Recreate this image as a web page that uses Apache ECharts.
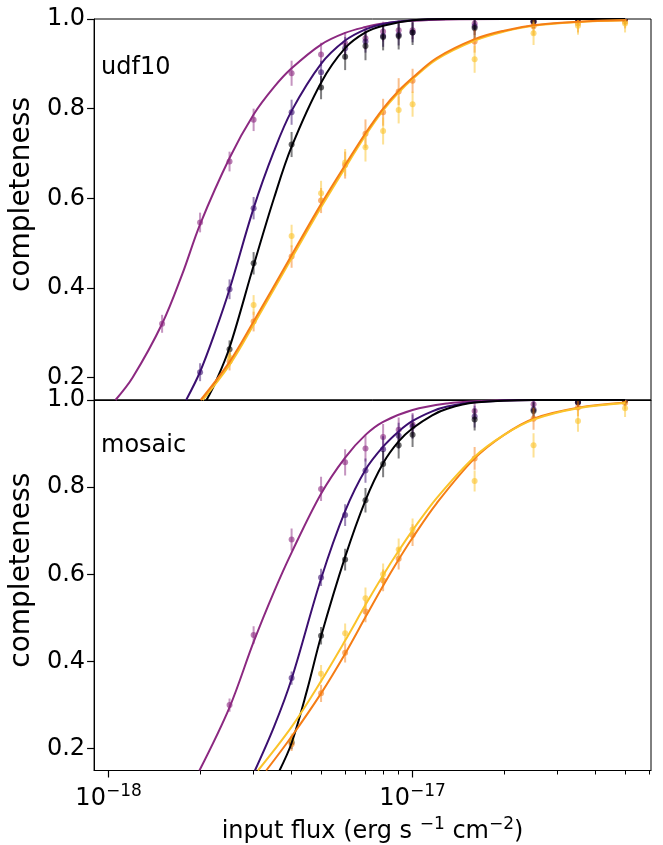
<!DOCTYPE html>
<html>
<head>
<meta charset="utf-8">
<script src="https://cdn.jsdelivr.net/npm/echarts@6/dist/echarts.min.js"></script>
<style>
  html, body { margin: 0; padding: 0; background: #fff; }
  #chart { width: 663px; height: 845px; }
</style>
</head>
<body>
<div id="chart"></div>
<script>
// input flux bins, in units of 1e-18 erg s^-1 cm^-2
const fluxBins = [1.5, 2, 2.5, 3, 4, 5, 6, 7, 8, 9, 10, 16, 25, 35, 50];

// ---- udf10 (top panel) measured completeness + errors
const udfMagenta = [0.32, 0.546, 0.682, 0.775, 0.879, 0.921, 0.946, 0.957, 0.972, 0.975, 0.975, 0.99, 0.993, 1.0, 1.0];
const udfMagentaErr = [0.02, 0.022, 0.022, 0.025, 0.028, 0.026, 0.025, 0.025, 0.022, 0.022, 0.02, 0.018, 0.015, 0.012, 0.012];
const udfIndigo = [null, 0.212, 0.397, 0.578, 0.792, 0.881, 0.935, 0.95, 0.962, 0.965, 0.97, 0.984, 0.995, 1.0, 1.0];
const udfIndigoErr = [null, 0.02, 0.022, 0.025, 0.028, 0.026, 0.025, 0.025, 0.024, 0.024, 0.022, 0.02, 0.015, 0.012, 0.012];
const udfBlack = [null, null, 0.263, 0.455, 0.72, 0.847, 0.916, 0.94, 0.96, 0.962, 0.97, 0.98, 0.995, 1.0, 1.0];
const udfBlackErr = [null, null, 0.02, 0.025, 0.028, 0.026, 0.03, 0.032, 0.03, 0.03, 0.028, 0.025, 0.015, 0.012, 0.012];
const udfOrange = [null, null, 0.236, 0.325, 0.47, 0.595, 0.674, 0.744, 0.792, 0.838, 0.862, 0.95, 0.984, 0.99, 0.994];
const udfOrangeErr = [null, null, 0.02, 0.022, 0.025, 0.028, 0.03, 0.032, 0.03, 0.03, 0.027, 0.025, 0.02, 0.02, 0.015];
const udfYellow = [null, null, 0.245, 0.362, 0.516, 0.611, 0.68, 0.714, 0.75, 0.797, 0.81, 0.91, 0.968, 0.985, 0.99];
const udfYellowErr = [null, null, 0.02, 0.022, 0.025, 0.028, 0.03, 0.032, 0.03, 0.03, 0.028, 0.03, 0.026, 0.02, 0.02];

// ---- mosaic (bottom panel) measured completeness + errors
const mosMagenta = [null, null, 0.30, 0.461, 0.68, 0.796, 0.857, 0.889, 0.915, 0.932, 0.944, 0.975, 0.99, 0.995, 1.0];
const mosMagentaErr = [null, null, 0.015, 0.02, 0.025, 0.028, 0.03, 0.03, 0.03, 0.028, 0.026, 0.02, 0.015, 0.012, 0.012];
const mosIndigo = [null, null, null, null, 0.362, 0.593, 0.736, 0.838, 0.887, 0.918, 0.939, 0.962, 0.978, 0.995, 1.0];
const mosIndigoErr = [null, null, null, null, 0.015, 0.02, 0.025, 0.028, 0.03, 0.03, 0.028, 0.025, 0.02, 0.012, 0.012];
const mosBlack = [null, null, null, null, 0.214, 0.459, 0.634, 0.77, 0.853, 0.896, 0.92, 0.955, 0.975, 0.995, 0.998];
const mosBlackErr = [null, null, null, null, 0.015, 0.02, 0.025, 0.028, 0.03, 0.03, 0.028, 0.025, 0.02, 0.012, 0.012];
const mosOrange = [null, null, null, null, 0.21, 0.327, 0.42, 0.515, 0.586, 0.636, 0.69, 0.866, 0.957, 0.983, 0.993];
const mosOrangeErr = [null, null, null, null, 0.015, 0.02, 0.022, 0.025, 0.025, 0.025, 0.025, 0.026, 0.025, 0.02, 0.015];
const mosYellow = [null, null, null, null, 0.22, 0.372, 0.465, 0.545, 0.60, 0.657, 0.703, 0.814, 0.896, 0.952, 0.981];
const mosYellowErr = [null, null, null, null, 0.015, 0.02, 0.022, 0.025, 0.025, 0.025, 0.025, 0.024, 0.028, 0.025, 0.02];

// ---- fitted curves
const udfMagentaFitX = [1.054, 1.2, 1.5, 1.75, 2, 2.5, 3, 3.5, 4, 5, 6, 7, 8, 10, 13, 20, 50];
const udfMagentaFitY = [0.15, 0.20, 0.32, 0.432, 0.542, 0.69, 0.787, 0.848, 0.89, 0.943, 0.969, 0.982, 0.99, 0.996, 0.999, 1.0, 1.0];
const udfIndigoFitX = [1.8, 2, 2.25, 2.5, 3, 3.5, 4, 5, 6, 7, 8, 10, 13, 20, 50];
const udfIndigoFitY = [0.15, 0.213, 0.305, 0.397, 0.578, 0.705, 0.795, 0.90, 0.952, 0.977, 0.989, 0.997, 1.0, 1.0, 1.0];
const udfBlackFitX = [2.1, 2.25, 2.5, 3, 3.5, 4, 5, 6, 7, 8, 10, 13, 20, 50];
const udfBlackFitY = [0.15, 0.19, 0.267, 0.45, 0.60, 0.715, 0.858, 0.935, 0.97, 0.985, 0.997, 1.0, 1.0, 1.0];
const udfOrangeFitX = [2.01, 2.5, 3, 4, 5, 6, 7, 8, 9, 10, 12, 16, 20, 25, 35, 50];
const udfOrangeFitY = [0.15, 0.235, 0.325, 0.473, 0.587, 0.674, 0.745, 0.80, 0.84, 0.869, 0.913, 0.955, 0.974, 0.986, 0.994, 0.997];
const udfYellowFitX = [2.04, 2.5, 3, 4, 5, 6, 7, 8, 9, 10, 12, 16, 20, 25, 35, 50];
const udfYellowFitY = [0.15, 0.228, 0.318, 0.466, 0.58, 0.668, 0.74, 0.796, 0.836, 0.866, 0.91, 0.952, 0.972, 0.985, 0.993, 0.997];

const mosMagentaFitX = [1.99, 2.5, 3, 3.5, 4, 5, 6, 7, 8, 10, 13, 16, 25, 50];
const mosMagentaFitY = [0.15, 0.295, 0.445, 0.56, 0.65, 0.785, 0.868, 0.92, 0.95, 0.977, 0.992, 0.997, 1.0, 1.0];
const mosIndigoFitX = [3.03, 3.5, 4, 5, 6, 7, 8, 9, 10, 11.6, 13, 16, 25, 50];
const mosIndigoFitY = [0.15, 0.25, 0.36, 0.59, 0.745, 0.84, 0.893, 0.928, 0.952, 0.974, 0.985, 0.995, 1.0, 1.0];
const mosBlackFitX = [3.65, 4, 4.5, 5, 6, 7, 8, 9, 10, 11.6, 13, 16, 25, 50];
const mosBlackFitY = [0.15, 0.213, 0.335, 0.458, 0.64, 0.77, 0.855, 0.905, 0.935, 0.965, 0.98, 0.994, 1.0, 1.0];
const mosOrangeFitX = [3.3, 4, 5, 6, 7, 8, 9, 10, 12, 16, 20, 25, 35, 50];
const mosOrangeFitY = [0.15, 0.228, 0.327, 0.418, 0.502, 0.574, 0.634, 0.684, 0.763, 0.866, 0.92, 0.957, 0.982, 0.994];
const mosYellowFitX = [3.1, 4, 5, 6, 7, 8, 9, 10, 12, 16, 20, 25, 35, 50];
const mosYellowFitY = [0.15, 0.25, 0.355, 0.448, 0.53, 0.598, 0.654, 0.701, 0.775, 0.87, 0.92, 0.955, 0.981, 0.993];

// ticks
const yTicks = [0.2, 0.4, 0.6, 0.8, 1.0];
const xMajorTicks = [1, 10];
const xMinorTicks = [2, 3, 4, 5, 6, 7, 8, 9, 20, 30, 40, 50, 60];

const colors = {
  magenta: '#8c2981',
  indigo: '#3b0f70',
  black: '#000004',
  orange: '#f57d15',
  yellow: '#fbc32a'
};
const FONT = 'DejaVu Sans';
const X_MIN = 0.896, X_MAX = 60.85;

function fitLine(panel, xs, ys, color) {
  return {
    type: 'line',
    xAxisIndex: panel === 0 ? 0 : 1,
    yAxisIndex: panel,
    data: xs.map((x, i) => [x, ys[i]]),
    smooth: 0.35,
    showSymbol: false,
    clip: true,
    silent: true,
    lineStyle: { color: color, width: 2 }
  };
}

function points(panel, vals, errs, color) {
  const data = [];
  fluxBins.forEach((x, i) => {
    if (vals[i] != null) data.push([x, vals[i], errs[i]]);
  });
  return {
    type: 'custom',
    xAxisIndex: panel === 0 ? 0 : 1,
    yAxisIndex: panel,
    data: data,
    clip: true,
    silent: true,
    encode: { x: 0, y: 1 },
    renderItem: function (params, api) {
      const x = api.value(0), y = api.value(1), e = api.value(2);
      const lo = api.coord([x, y - e]);
      const hi = api.coord([x, y + e]);
      const c = api.coord([x, y]);
      return {
        type: 'group',
        children: [
          { type: 'line', shape: { x1: lo[0], y1: lo[1], x2: hi[0], y2: hi[1] },
            style: { stroke: color, lineWidth: 2, opacity: 0.5 } },
          { type: 'circle', shape: { cx: c[0], cy: c[1], r: 3 },
            style: { fill: color, opacity: 0.6 } }
        ]
      };
    }
  };
}

function yAxis(panel) {
  return {
    type: 'value',
    gridIndex: panel,
    min: 0.15,
    max: 1.0,
    axisLine: { show: true, onZero: false, lineStyle: { color: '#000', width: 1 } },
    axisTick: { show: true, customValues: yTicks, length: 7, lineStyle: { color: '#000', width: 1.2 } },
    axisLabel: { customValues: yTicks, formatter: v => v.toFixed(1), fontSize: 24, color: '#000', fontFamily: FONT, margin: 9 },
    splitLine: { show: false },
    name: 'completeness',
    nameLocation: 'middle',
    nameRotate: 90,
    nameGap: 55,
    nameTextStyle: { fontSize: 28, color: '#000', fontFamily: FONT, padding: [0, 0, 0, 30] }
  };
}

const chart = echarts.init(document.getElementById('chart'), null, { renderer: 'canvas' });

const series = [
  fitLine(0, udfMagentaFitX, udfMagentaFitY, colors.magenta),
  fitLine(0, udfIndigoFitX, udfIndigoFitY, colors.indigo),
  fitLine(0, udfBlackFitX, udfBlackFitY, colors.black),
  fitLine(0, udfYellowFitX, udfYellowFitY, colors.yellow),
  fitLine(0, udfOrangeFitX, udfOrangeFitY, colors.orange),
  points(0, udfMagenta, udfMagentaErr, colors.magenta),
  points(0, udfIndigo, udfIndigoErr, colors.indigo),
  points(0, udfBlack, udfBlackErr, colors.black),
  points(0, udfOrange, udfOrangeErr, colors.orange),
  points(0, udfYellow, udfYellowErr, colors.yellow),

  fitLine(1, mosMagentaFitX, mosMagentaFitY, colors.magenta),
  fitLine(1, mosIndigoFitX, mosIndigoFitY, colors.indigo),
  fitLine(1, mosBlackFitX, mosBlackFitY, colors.black),
  fitLine(1, mosOrangeFitX, mosOrangeFitY, colors.orange),
  fitLine(1, mosYellowFitX, mosYellowFitY, colors.yellow),
  points(1, mosMagenta, mosMagentaErr, colors.magenta),
  points(1, mosIndigo, mosIndigoErr, colors.indigo),
  points(1, mosBlack, mosBlackErr, colors.black),
  points(1, mosOrange, mosOrangeErr, colors.orange),
  points(1, mosYellow, mosYellowErr, colors.yellow)
];

chart.setOption({
  animation: false,
  backgroundColor: '#fff',
  textStyle: { fontFamily: FONT },
  grid: [
    { left: 88, top: 19, width: 563, height: 381, show: true, borderColor: '#000', borderWidth: 1, backgroundColor: 'transparent' },
    { left: 88, top: 400, width: 563, height: 379, show: true, borderColor: '#000', borderWidth: 1, backgroundColor: 'transparent' }
  ],
  xAxis: [
    {
      type: 'log', logBase: 10, gridIndex: 0, min: X_MIN, max: X_MAX, position: 'bottom',
      axisLine: { show: true, onZero: false, lineStyle: { color: '#000', width: 1 } },
      axisTick: { show: false },
      axisLabel: { show: false },
      splitLine: { show: false }
    },
    {
      type: 'log', logBase: 10, gridIndex: 1, min: X_MIN, max: X_MAX, position: 'bottom',
      axisLine: { show: true, onZero: false, lineStyle: { color: '#000', width: 1 } },
      axisTick: { show: true, customValues: xMajorTicks, length: 7, lineStyle: { color: '#000', width: 1.2 } },
      axisLabel: {
        customValues: xMajorTicks,
        margin: 13,
        color: '#000',
        formatter: function (v) {
          const exp = Math.round(Math.log10(v)) - 18;
          return '{b|10}{s|' + String(exp).replace('-', '\u2212') + '}';
        },
        rich: {
          b: { fontSize: 24, fontFamily: FONT, color: '#000' },
          s: { fontSize: 17, fontFamily: FONT, color: '#000', padding: [0, 0, 14, 0] }
        }
      },
      splitLine: { show: false },
      name: '{t|input flux (erg s }{s|\u22121}{t| cm}{s|\u22122}{t|)}',
      nameLocation: 'middle',
      nameGap: 46,
      nameTextStyle: {
        rich: {
          t: { fontSize: 24, fontFamily: FONT, color: '#000' },
          s: { fontSize: 17, fontFamily: FONT, color: '#000', padding: [0, 0, 14, 0] }
        }
      }
    },
    {
      type: 'log', logBase: 10, gridIndex: 1, min: X_MIN, max: X_MAX, position: 'bottom',
      axisLine: { show: false, onZero: false },
      axisTick: { show: true, customValues: xMinorTicks, length: 4, lineStyle: { color: '#000', width: 1 } },
      axisLabel: { show: false },
      splitLine: { show: false }
    }
  ],
  yAxis: [yAxis(0), yAxis(1)],
  graphic: [
    { type: 'text', left: 101, top: 56, style: { text: 'udf10', fontSize: 24, fontFamily: FONT, fill: '#000' } },
    { type: 'text', left: 101, top: 434, style: { text: 'mosaic', fontSize: 24, fontFamily: FONT, fill: '#000' } }
  ],
  series: series
});
</script>
</body>
</html>
